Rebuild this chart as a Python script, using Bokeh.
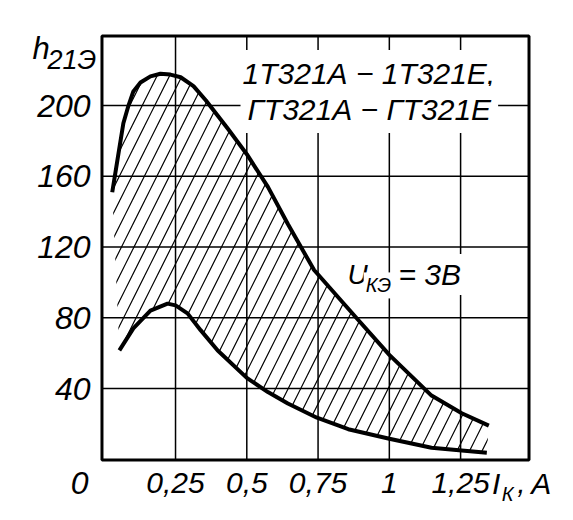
from bokeh.plotting import figure
from bokeh.models import Range1d, Label
from bokeh.core.properties import value
from bokeh.embed import file_html
from bokeh.resources import INLINE

# ---- data ----
x_ticks = [0.25, 0.5, 0.75, 1.0, 1.25]
x_tick_labels = ["0,25", "0,5", "0,75", "1", "1,25"]
y_ticks = [40, 80, 120, 160, 200]
y_tick_labels = ["40", "80", "120", "160", "200"]

upper_x = [0.028, 0.046, 0.067, 0.085, 0.102, 0.127, 0.162, 0.197, 0.232, 0.268,
           0.313, 0.356, 0.433, 0.5, 0.574, 0.644, 0.736, 0.884, 1.0, 1.148, 1.254, 1.349]
upper_y = [151, 169, 190, 200, 208, 213, 216.5, 218, 217.5, 216,
           211, 203, 187, 172.5, 154, 133, 107, 80, 59, 36, 26, 19]
lower_x = [0.053, 0.102, 0.162, 0.222, 0.25, 0.292, 0.338, 0.398, 0.5, 0.574,
           0.644, 0.746, 0.856, 1.0, 1.148, 1.254, 1.342]
lower_y = [61.6, 74, 84, 88, 87, 82.5, 73, 61.5, 46, 38,
           31.5, 23.5, 17, 11.6, 6.5, 5, 3.7]

FONT = "Liberation Sans"

# plotting box (axes limits) inside a canvas-wide frame
X0, X1 = -0.008, 1.49
Y0, Y1 = -0.4, 239.3

p = figure(width=565, height=512, min_border=0, title=None,
           x_axis_type=None, y_axis_type=None,
           x_range=Range1d(-0.364, 1.618), y_range=Range1d(-30.1, 259.4),
           output_backend="svg", toolbar_location=None)
p.background_fill_color = "white"
p.border_fill_color = "white"
p.outline_line_color = None
p.xgrid.visible = False
p.ygrid.visible = False

# grid lines at the ticks, limited to the box
nx, ny = len(x_ticks), len(y_ticks)
p.segment(x0=x_ticks, y0=[Y0] * nx, x1=x_ticks, y1=[Y1] * nx,
          line_color="black", line_width=1.5)
p.segment(x0=[X0] * ny, y0=y_ticks, x1=[X1] * ny, y1=y_ticks,
          line_color="black", line_width=1.5)

# hatched band between curves
band_x = upper_x + lower_x[::-1]
band_y = upper_y + lower_y[::-1]
p.patch(band_x, band_y, fill_color=None, fill_alpha=0, line_color=None,
        hatch_pattern="/", hatch_color="black", hatch_scale=25, hatch_weight=1.2)

p.line(upper_x, upper_y, line_color="black", line_width=4, line_join="round")
p.line(lower_x, lower_y, line_color="black", line_width=4, line_join="round")

# thick frame
p.quad(left=[X0], right=[X1], bottom=[Y0], top=[Y1], fill_color=None,
       line_color="black", line_width=3)

# tick labels
p.text(x=x_ticks, y=[-13.7] * nx, text=x_tick_labels,
       text_font=value(FONT), text_font_style="italic", text_font_size=value("30px"),
       text_color="black", text_align="center", text_baseline="middle")
p.text(x=[-0.048] * ny, y=y_ticks, text=y_tick_labels,
       text_font=value(FONT), text_font_style="italic", text_font_size=value("32px"),
       text_color="black", text_align="right", text_baseline="middle")


def lab(x, y, text, size, bg=None, pad=0):
    kw = dict(x=x, y=y, text=text,
              text_font=FONT, text_font_style="italic", text_font_size=size,
              text_color="black", text_align="left", text_baseline="middle")
    if bg:
        kw.update(background_fill_color=bg, padding=pad)
    p.add_layout(Label(**kw))


# y-axis title h21э
lab(-0.252, 232.0, "h", "31px")
lab(-0.199, 226.0, "21Э", "27px")
# origin
lab(-0.118, -13.7, "0", "32px")
# x-axis title I_К, А
lab(1.36, -13.7, "I", "30px")
lab(1.394, -19.9, "К", "20px")
lab(1.449, -13.7, ",", "30px")
lab(1.498, -13.7, "А", "30px")
# device names
lab(0.4605, 218.1, "1Т321А − 1Т321Е,", "30px", bg="white", pad=7)
lab(0.478, 197.8, "ГТ321А − ГТ321Е", "30px", bg="white", pad=7)
# U_КЭ = 3 В
lab(0.846, 104.5, "U", "28px", bg="white", pad=2)
lab(0.910, 98.3, "КЭ", "20px", bg="white", pad=2)
lab(1.018, 104.5, "= 3В", "30px", bg="white", pad=4)

open("out.html", "w").write(file_html(p, INLINE))
